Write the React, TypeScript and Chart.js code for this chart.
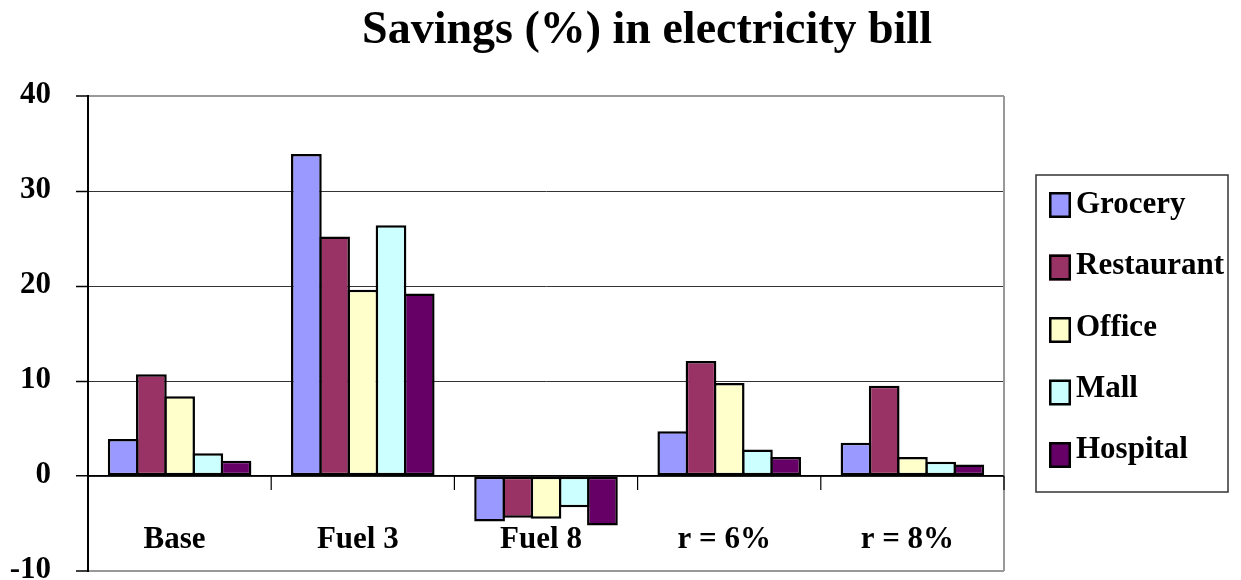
import React, { useEffect, useRef } from "react";
import { Chart, registerables } from "chart.js";

Chart.register(...registerables);

const titleText = "Savings (%) in electricity bill";
const categories = ["Base", "Fuel 3", "Fuel 8", "r = 6%", "r = 8%"];
const seriesNames = ["Grocery", "Restaurant", "Office", "Mall", "Hospital"];
const grocery = [3.9, 33.9, -4.8, 4.7, 3.5];
const restaurant = [10.7, 25.2, -4.4, 12.1, 9.5];
const office = [8.4, 19.6, -4.5, 9.8, 2.0];
const mall = [2.4, 26.4, -3.3, 2.8, 1.5];
const hospital = [1.6, 19.2, -5.2, 2.0, 1.2];
const seriesColors = ["#9999FF", "#993366", "#FFFFCC", "#CCFFFF", "#660066"];
const yTicks = [-10, 0, 10, 20, 30, 40];

const FONT = "'Liberation Serif', 'Times New Roman', serif";

const decorPlugin = {
  id: "decor",
  afterDraw(chart: any) {
    const { ctx, chartArea } = chart;
    const x = chart.scales.x;
    const y = chart.scales.y;
    ctx.save();
    // right border
    ctx.strokeStyle = "#999999";
    ctx.lineWidth = 2;
    ctx.beginPath();
    ctx.moveTo(chartArea.right, chartArea.top);
    ctx.lineTo(chartArea.right, chartArea.bottom);
    ctx.stroke();

    // zero line and category ticks
    const y0 = y.getPixelForValue(0);
    ctx.strokeStyle = "#000";
    ctx.lineWidth = 1.5;
    ctx.beginPath();
    ctx.moveTo(chartArea.left, y0);
    ctx.lineTo(chartArea.right, y0);
    ctx.stroke();
    const catW = (chartArea.right - chartArea.left) / categories.length;
    ctx.lineWidth = 1.2;
    for (let i = 0; i < categories.length; i++) {
      const bx = x.getPixelForValue(i) + catW / 2;
      ctx.beginPath();
      ctx.moveTo(bx, y0);
      ctx.lineTo(bx, y0 + 14);
      ctx.stroke();
    }
    // y tick labels
    ctx.fillStyle = "#000";
    ctx.font = `bold 31px ${FONT}`;
    ctx.textAlign = "right";
    ctx.textBaseline = "alphabetic";
    yTicks.forEach((v) => {
      ctx.fillText(String(v), chartArea.left - 37, y.getPixelForValue(v) + 7);
    });
    // category labels
    ctx.textAlign = "center";
    categories.forEach((c, i) => {
      ctx.fillText(c, x.getPixelForValue(i) - 5, y0 + 72);
    });

    // title
    ctx.font = `bold 46px ${FONT}`;
    ctx.fillText(titleText, 639, 35);

    // legend
    const lx = 1028, ly = 167, lw = 192, lh = 317;
    ctx.strokeStyle = "#333";
    ctx.lineWidth = 1.5;
    ctx.strokeRect(lx, ly, lw, lh);
    ctx.font = `bold 31px ${FONT}`;
    ctx.textAlign = "left";
    seriesNames.forEach((name, i) => {
      const sy = 184 + i * 62.5;
      ctx.fillStyle = seriesColors[i];
      ctx.fillRect(1041, sy, 22, 26);
      ctx.strokeStyle = "#000";
      ctx.lineWidth = 2.5;
      ctx.strokeRect(1042.25, sy + 1.25, 19.5, 23.5);
      ctx.fillStyle = "#000";
      ctx.fillText(name, 1068, 205 + i * 61.3);
    });
    ctx.restore();
  },
};

export default function App() {
  const ref = useRef<HTMLCanvasElement>(null);
  useEffect(() => {
    document.documentElement.style.overflow = "hidden";
    document.body.style.overflow = "hidden";
    const seriesData = [grocery, restaurant, office, mall, hospital];
    const chart = new Chart(ref.current as HTMLCanvasElement, {
      type: "bar",
      data: {
        labels: categories,
        datasets: seriesNames.map((name, i) => ({
          label: name,
          data: seriesData[i],
          backgroundColor: seriesColors[i],
          borderColor: "#000",
          borderWidth: 2.5,
          borderSkipped: false,
          barPercentage: 1.089,
          categoryPercentage: 0.77,
        })),
      },
      options: {
        animation: false,
        responsive: true,
        maintainAspectRatio: false,
        layout: { padding: { top: 88, right: 229, bottom: 9, left: 0 } },
        plugins: {
          legend: { display: false },
          title: { display: false },
          tooltip: { enabled: false },
        },
        scales: {
          x: { display: false },
          y: {
            min: -10,
            max: 40,
            afterBuildTicks: (scale: any) => {
              scale.ticks = yTicks.map((v) => ({ value: v }));
            },
            afterFit: (scale: any) => {
              scale.width = 80;
              scale.paddingTop = 0;
              scale.paddingBottom = 0;
            },
            ticks: { display: false },
            grid: {
              drawTicks: true,
              tickLength: 12,
              tickColor: "#000",
              tickWidth: 1.5,
              color: (c: any) => {
                const v = c.tick?.value;
                if (v === 40 || v === -10) return "#999999";
                if (v === 0) return "#000";
                return "#333";
              },
              lineWidth: (c: any) => {
                const v = c.tick?.value;
                if (v === 40 || v === -10) return 2;
                if (v === 0) return 1.5;
                return 1;
              },
            },
            border: { display: true, color: "#000", width: 2 },
          },
        },
      },
      plugins: [decorPlugin],
    });
    return () => chart.destroy();
  }, []);
  return (
    <div style={{ position: "relative", width: 1225, height: 572 }}>
      <canvas ref={ref} />
    </div>
  );
}
